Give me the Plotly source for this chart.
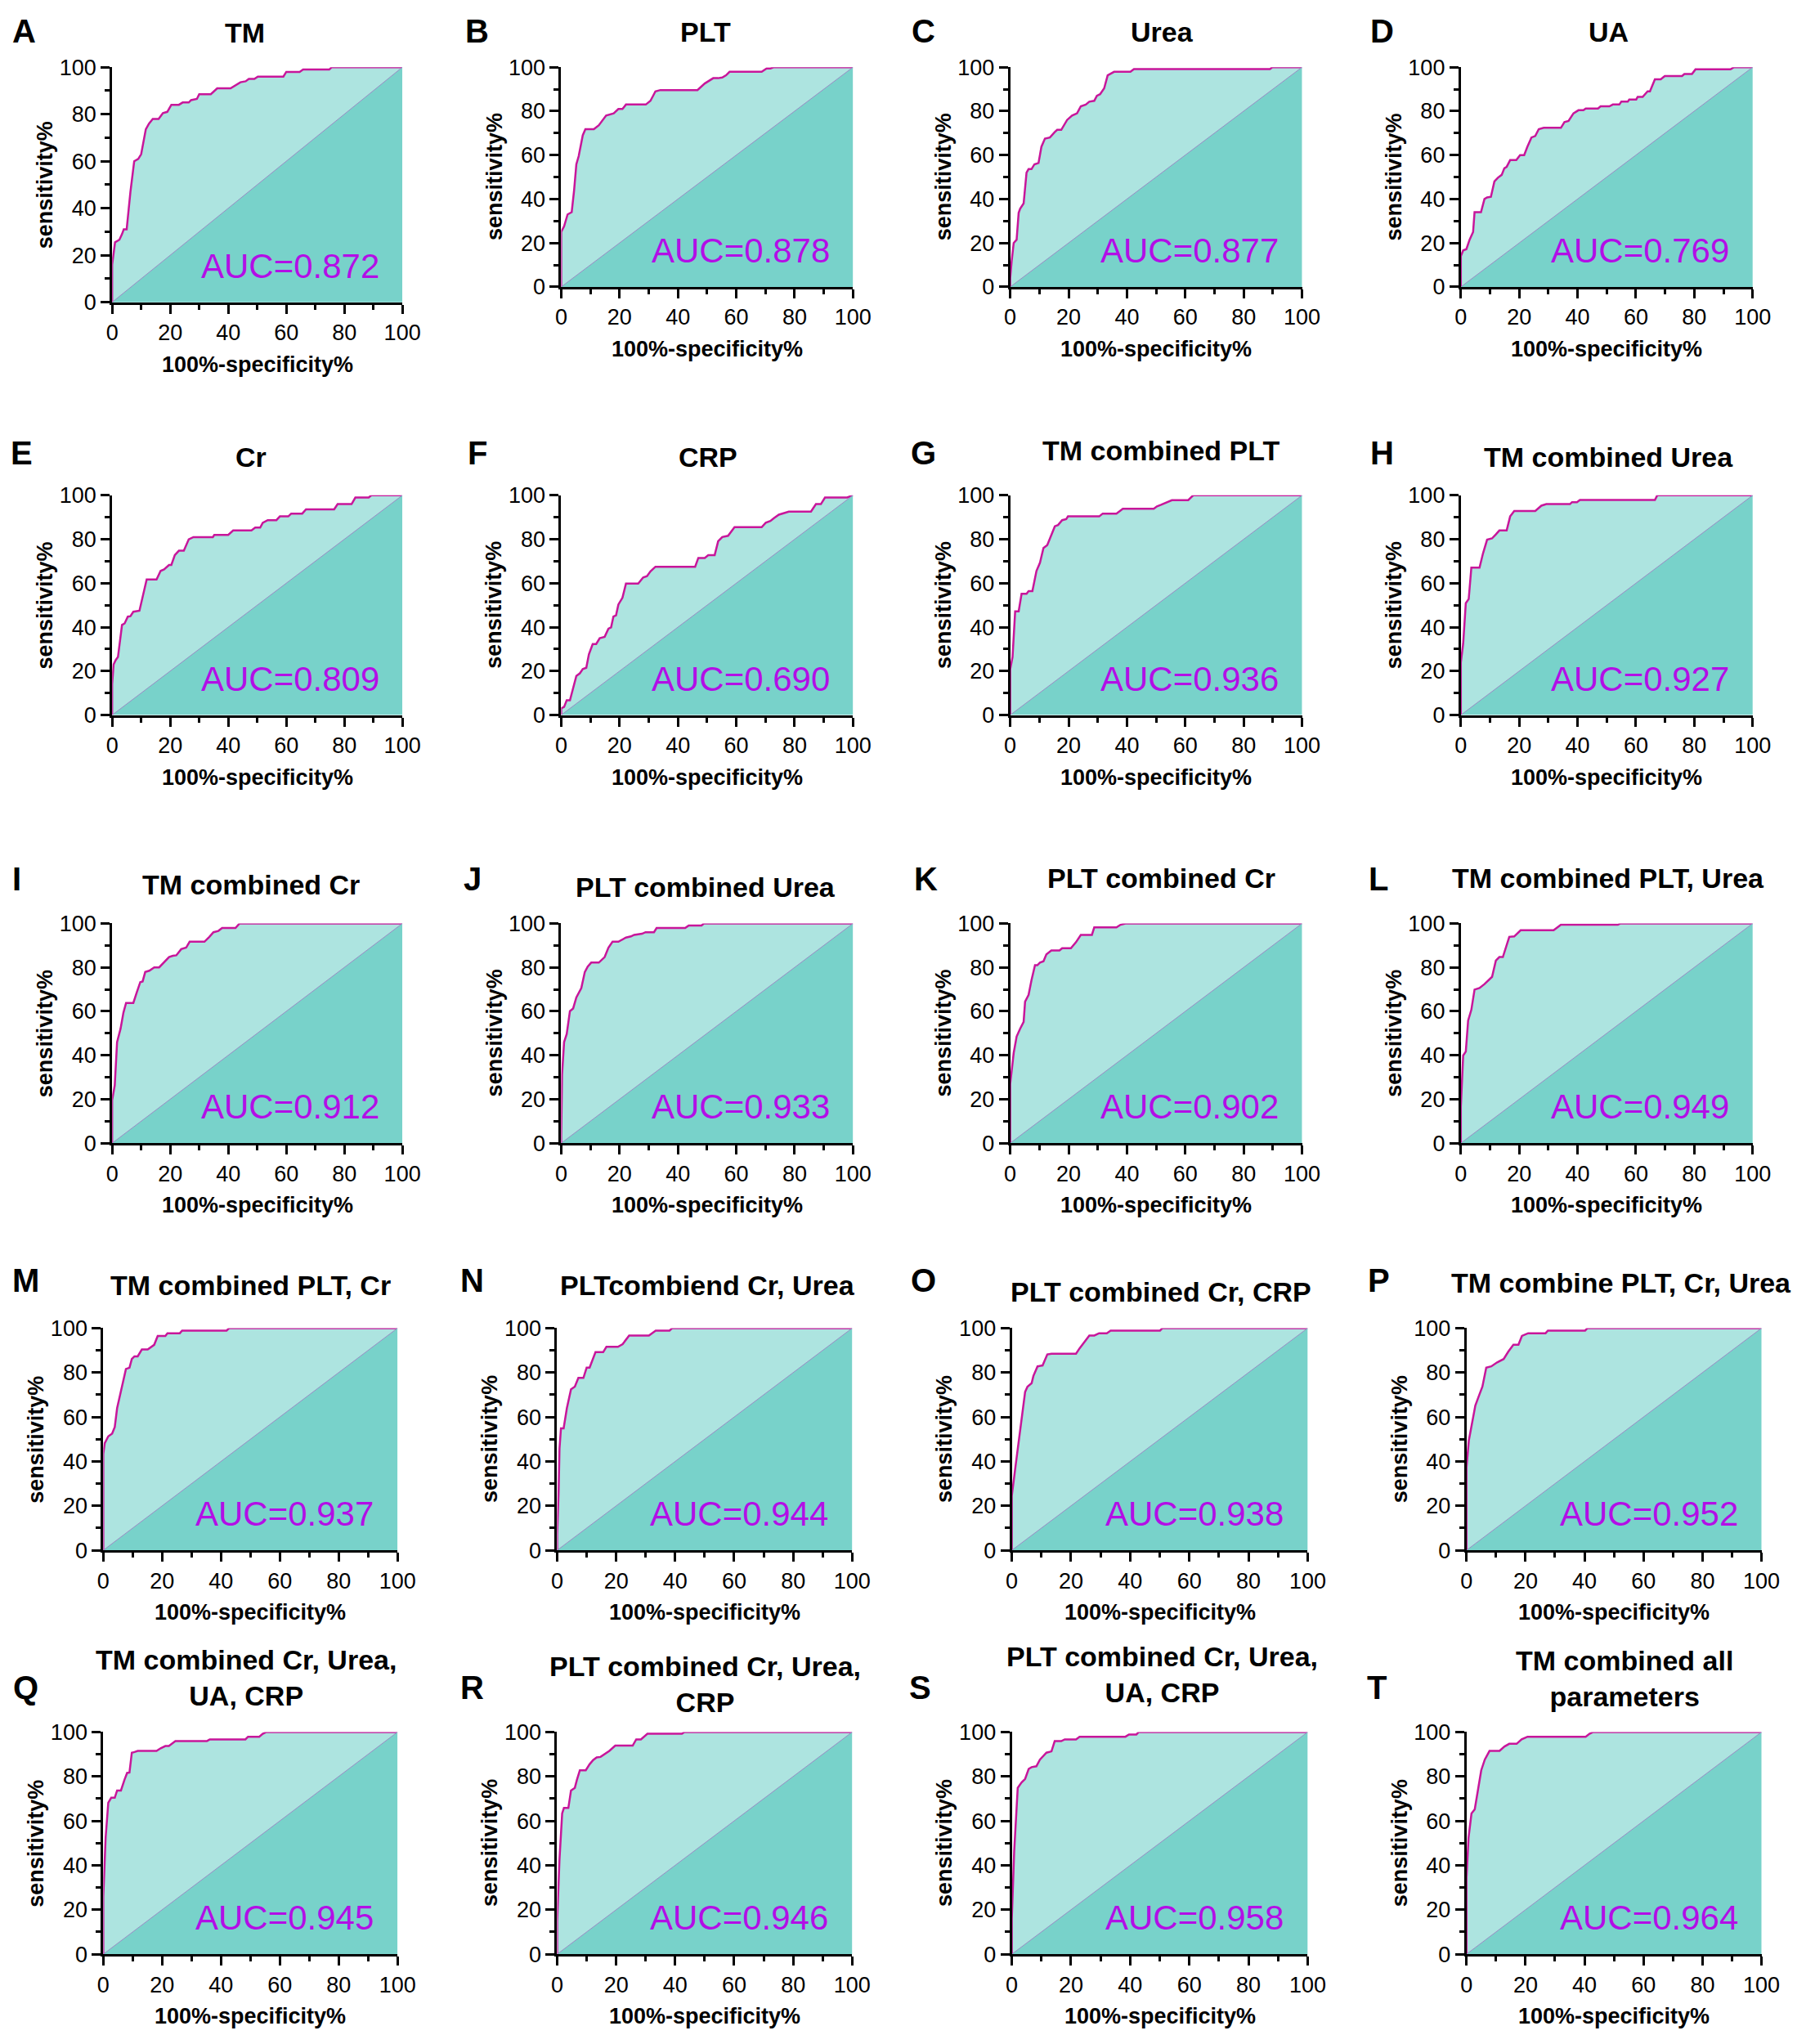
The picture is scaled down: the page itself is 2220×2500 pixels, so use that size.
import plotly.graph_objects as go

# ROC curves: x = 100%-specificity%, y = sensitivity%
TM_X = [0, 0, 1, 2.5, 3.4, 4, 5, 6.3, 7.6, 9, 10, 11.6, 12.7, 14, 16, 17.5, 19, 20.4, 23, 24.3,
        26.4, 27.2, 29.2, 30, 34, 36.2, 40.8, 44.2, 46, 47.1, 49, 50.2, 59, 60, 64.6, 65.8, 74.8, 75.7, 100]
TM_Y = [0, 16, 25.5, 26.6, 29, 31, 31, 47, 60, 61, 63, 73.6, 76, 78, 78, 80.5, 81, 84, 84, 85,
        85, 86, 86.5, 88.5, 88.5, 91, 91, 93.6, 94, 95, 95, 96, 96, 98, 98, 99, 99, 100, 100]

PLT_X = [0, 0, 1, 2.2, 3.6, 4.4, 5.2, 6, 7.4, 8.3, 10.3, 11.2, 12.9, 15.4, 18, 19.6, 21, 22.2, 29, 30.6,
         32.3, 34, 46.7, 49.2, 52.1, 53.8, 55.2, 56.5, 57.7, 68.7, 70.4, 71.7, 72.9, 100]
PLT_Y = [0, 25, 27.6, 33, 34, 43.6, 55.8, 59.5, 69, 71.8, 71.8, 71.8, 73.6, 78, 79, 81, 81, 83, 83, 84.7,
         89, 89.6, 89.6, 92.6, 95, 95, 95.3, 96.3, 97.9, 97.9, 99.4, 99.4, 100, 100]

UREA_X = [0, 0, 0.5, 1.2, 2.2, 2.9, 3.4, 4.6, 5.6, 6.3, 7.3, 8.3, 9.7, 10.7, 11.9, 13.6, 15.3, 16.1, 17.5, 19.5,
          21.2, 22.9, 24.2, 25.9, 27.1, 28.8, 29.7, 30.8, 32.2, 33.4, 35.6, 41.2, 42.4, 89, 89.8, 100]
UREA_Y = [0, 4, 11.7, 20, 21.5, 33.7, 35.6, 38, 52, 53.6, 53.6, 55.8, 56.4, 63.8, 67.5, 68, 70.5, 71.5, 71.5, 76,
          78, 79, 82.2, 83, 84.3, 84.7, 87, 87.7, 90.4, 96.3, 97.9, 97.9, 99.1, 99.1, 100, 100]

UA_X = [0, 0, 0.8, 1.9, 3, 4.2, 4.7, 6.9, 8.1, 9, 10.3, 11.5, 12.7, 14, 14.9, 15.7, 16.9, 19, 20.3, 21.7,
        22.8, 24.2, 25.5, 26.7, 28.4, 34.3, 35.5, 36.9, 38.6, 40.3, 42, 42.8, 47, 47.9, 50.9, 52.1, 54.3, 55,
        57.2, 57.7, 60.1, 60.6, 62.3, 64, 64.8, 66.5, 68.5, 69.9, 75.8, 76.6, 79.2, 80.4, 92.4, 93.6, 100]
UA_Y = [0, 14, 16.6, 17.2, 21.5, 25, 34, 34, 40, 40.7, 41, 48, 49.7, 51, 54, 54.6, 57.7, 57.7, 60, 60,
        63.8, 68, 68.7, 71.8, 72.4, 72.4, 75, 75.5, 79, 80.4, 80.4, 81.2, 81.2, 82.2, 82.2, 83, 83, 84.3,
        84.3, 85.3, 85.3, 86.5, 86.5, 89, 89, 94.5, 94.5, 96, 96, 96.9, 96.9, 99, 99, 100, 100]

CR_X = [0, 0, 0.5, 1.2, 2, 3.4, 4.3, 5.4, 6.3, 7.3, 9.4, 11.9, 15.3, 16.7, 17.9, 19.6, 20.4, 21.6, 23, 24.7,
        26.4, 28, 34.7, 35.2, 40, 41.7, 48, 49.3, 51, 51.9, 53.6, 56.6, 57.8, 60.7, 61.7, 65.5, 66.8, 76.5,
        77.7, 82.5, 83.8, 88.4, 89.3, 100]
CR_Y = [0, 14, 23, 25, 26.4, 41, 41.7, 44.8, 45, 47, 47.5, 61.7, 61.7, 65.6, 66.3, 68.3, 68.3, 72.8, 74.8, 74.8,
        80, 81, 81, 82, 82, 84, 84, 85.3, 85.3, 87.5, 88.7, 88.7, 90.4, 90.4, 91.7, 91.7, 93.6, 93.6,
        96, 96, 99, 99, 100, 100]

CRP_X = [0, 0, 1, 1.9, 3, 4.4, 5.2, 6.4, 7.4, 8.6, 9.5, 10.8, 12, 13.2, 14.9, 16.2, 17.1, 17.9, 18.8, 19.6,
         21, 22.2, 26.4, 28.1, 29.4, 30.6, 32.3, 45.9, 47, 49.2, 50.4, 52.6, 53.8, 55.2, 57.2, 59.4, 68.7,
         70.1, 71.7, 72.9, 74.6, 78, 85.6, 87.3, 89, 90.4, 98, 100]
CRP_Y = [0, 3, 3.7, 6.7, 6.7, 13.5, 17.8, 19, 20.9, 21.5, 27.6, 32.3, 32.3, 35, 35.6, 39.3, 39.9, 44.8, 45.4, 50.3,
         53.4, 59.8, 59.8, 62.6, 63.2, 65.4, 67.5, 67.5, 71.5, 71.5, 72.8, 72.8, 79.1, 81, 81.6, 85.5, 85.5,
         87.5, 88.3, 89.6, 91.2, 92.6, 92.6, 96, 96, 99, 99, 100]

TM_PLT_X = [0, 0, 0.8, 1.7, 2.9, 3.9, 5.6, 6.3, 7.6, 9, 10.2, 11.4, 12.7, 14.1, 15.3, 16.4, 17.8, 19.2, 19.8,
            30.5, 31.7, 36.4, 38.6, 49.2, 50.3, 51.7, 53.4, 55.4, 61, 62.7, 100]
TM_PLT_Y = [0, 20.9, 26.4, 47.2, 47.2, 55.2, 55.2, 56.4, 56.4, 65.6, 69.3, 76, 77.3, 82.2, 85.9, 86.5, 88.7, 89.2,
            90.4, 90.4, 91.7, 91.7, 93.9, 93.9, 95, 95.7, 96.6, 97.8, 97.8, 100, 100]

TM_UREA_X = [0, 0, 0.8, 1.7, 2.7, 3.6, 6.4, 7.6, 9, 10.7, 12, 13.2, 15.7, 16.9, 18.3, 25.5, 27.6, 29.3, 37.4,
             38.1, 39.8, 40.8, 66.5, 67.3, 100]
TM_UREA_Y = [0, 23.9, 32.5, 50.9, 52.8, 67.1, 67.1, 73.6, 79.8, 80.4, 82.2, 84, 84, 90.4, 92.9, 92.9, 95.3, 96, 96,
             96.9, 96.9, 97.9, 97.9, 100, 100]

TM_CR_X = [0, 0, 0.9, 1.7, 2.9, 3.9, 4.8, 7.3, 8.5, 9.7, 10.5, 11.4, 12.8, 14.5, 16.2, 17.9, 19.6, 20.9, 22.1,
           23.8, 25.5, 26.7, 31.8, 33.5, 34.9, 36.6, 37.9, 42.5, 43.9, 100]
TM_CR_Y = [0, 19.6, 26.4, 46, 52.1, 59.5, 63.8, 63.8, 68.7, 73.3, 73.6, 77.9, 78.5, 80, 80, 82.2, 84.7, 85.3, 85.5,
           88.3, 89, 91.7, 91.7, 93.9, 96, 96.6, 97.9, 97.9, 100, 100]

PLT_UREA_X = [0, 0, 0.3, 1, 1.9, 3, 4.1, 5.2, 6.9, 8.1, 9.1, 10.3, 12.9, 14.9, 16.2, 17.6, 19.6, 21, 22.2, 23.9,
              25, 27.7, 28.9, 31.8, 32.7, 42.5, 43.7, 48.1, 48.9, 100]
PLT_UREA_Y = [0, 3, 31.3, 46, 49.7, 60.1, 61.3, 66.3, 70.6, 77.9, 80.4, 82.2, 82.2, 84.7, 89, 91.7, 91.7, 92.6,
              93.6, 94.1, 94.8, 95.3, 96, 96, 97.9, 97.9, 99.1, 99.1, 100, 100]

PLT_CR_X = [0, 0, 1.2, 2.2, 3.4, 4.6, 5.1, 6.3, 7.3, 8.5, 9.3, 10.2, 11.4, 12.4, 14.1, 16.9, 17.8, 20.8, 22.5,
            24.2, 28, 28.8, 36.4, 37.8, 39.5, 100]
PLT_CR_Y = [0, 27, 41.1, 48.5, 52.1, 55.2, 64.4, 67.5, 74.2, 81, 81, 82.2, 82.8, 85.9, 87.7, 87.7, 88.7, 88.7, 91.4,
            94.8, 94.8, 98.2, 98.2, 99.4, 100, 100]

TM_PLT_UREA_X = [0, 0, 0.8, 1.7, 2.5, 3.6, 4.7, 6.4, 8.1, 10.7, 12, 13.2, 14.4, 16, 16.6, 18.3, 20.5, 31.8,
                 34.3, 53.8, 54.7, 100]
TM_PLT_UREA_Y = [0, 16.6, 39.9, 41.7, 55.8, 60.7, 69.9, 70.6, 72.4, 75.7, 83.1, 84.7, 84.7, 90.8, 93.9, 94.1,
                 96.9, 96.9, 99.4, 99.4, 100, 100]

TM_PLT_CR_X = [0, 0, 0.5, 1.7, 3, 3.9, 4.7, 6, 7.7, 8.9, 9.7, 10.6, 11.7, 13.1, 15.1, 17.3, 18.5, 21.1, 21.8,
               26, 26.8, 41.9, 42.8, 100]
TM_PLT_CR_Y = [0, 43.4, 48.2, 51.3, 52.5, 55.5, 64, 71.9, 81.6, 82.2, 86.1, 87.3, 87.3, 90.4, 90.4, 92.5, 96.5,
               96.5, 97.7, 97.7, 98.9, 98.9, 100, 100]

PLT_CR_UREA_X = [0, 0, 0.5, 0.8, 1.3, 2.2, 3.3, 4.7, 6, 7.2, 8.9, 10, 11, 13, 15.6, 16.7, 20.6, 22.2, 24.4,
                 31.1, 33.4, 38.1, 39, 100]
PLT_CR_UREA_Y = [0, 7, 26.4, 45.8, 54.9, 54.9, 64, 72.5, 73.7, 77.6, 77.6, 82.2, 82.2, 89.2, 89.2, 91.6, 91.6,
                 92.8, 96.7, 96.7, 98.9, 98.9, 100, 100]

PLT_CR_CRP_X = [0, 0, 1.2, 2.8, 4.5, 5.3, 6.7, 7.3, 8.7, 10.4, 12, 13.4, 21.7, 22.9, 24.5, 26.2, 27.9, 29.5,
                32.1, 33.4, 50.1, 50.9, 100]
PLT_CR_CRP_Y = [0, 24.6, 37.3, 53.1, 71.3, 73.7, 75.2, 78.5, 82.8, 83.2, 88.2, 88.5, 88.5, 90.9, 93.7, 96.7,
                96.7, 97.7, 97.7, 98.9, 98.9, 100, 100]

TM_PLT_CR_UREA_X = [0, 0, 0.8, 2, 3, 4.2, 5.4, 6.7, 8.4, 10.4, 12.6, 14.2, 15.9, 17.6, 18.8, 20.9, 26.8, 27.6,
                    40.2, 41, 100]
TM_PLT_CR_UREA_Y = [0, 37.3, 49.5, 57.9, 65.2, 69.5, 73.7, 82.2, 82.8, 84.6, 86.1, 89.5, 92.5, 92.5, 96.5, 97.7,
                    97.7, 98.9, 98.9, 100, 100]

TM_CR_UREA_UA_CRP_X = [0, 0, 0.8, 1.7, 2.7, 3.9, 4.7, 6, 7.2, 8.1, 8.9, 9.7, 10.6, 11.7, 18.1, 19.5, 21.1, 22.3,
                       24.5, 35.2, 36.2, 48.3, 49.2, 53, 54.2, 55.4, 100]
TM_CR_UREA_UA_CRP_Y = [0, 25.8, 52.5, 68.2, 70.4, 70.4, 73.7, 73.7, 78.5, 81.6, 81.8, 90.7, 91, 91.5, 91.5, 92.7,
                       93.7, 93.7, 95.9, 95.9, 96.7, 96.7, 97.9, 97.9, 99.2, 100, 100]

PLT_CR_UREA_CRP_X = [0, 0, 0.8, 1.7, 2.3, 3.8, 4.7, 6, 6.7, 7.7, 9.7, 11, 12.2, 13.4, 14.7, 16.1, 17.7, 19.7,
                     25.6, 26.8, 28.4, 30.6, 42.3, 43.1, 100]
PLT_CR_UREA_CRP_Y = [0, 14.9, 42.8, 63.4, 65.8, 65.8, 73.7, 74.9, 78.5, 82.8, 82.8, 85.5, 87.4, 88.6, 88.8, 90.1,
                     91.5, 93.9, 93.9, 96.7, 96.7, 99.2, 99.2, 100, 100]

PLT_CR_UREA_UA_CRP_X = [0, 0, 0.8, 1.7, 2, 3.3, 4.5, 5.7, 6.7, 8.3, 9.5, 11.7, 13.4, 14.5, 16.7, 17.9, 21.7, 22.9,
                        38.4, 39.6, 42.1, 42.9, 100]
PLT_CR_UREA_UA_CRP_Y = [0, 16.1, 46.4, 67, 74.9, 77.3, 78.9, 83.4, 84.2, 84.6, 87.6, 90.7, 91.3, 95.9, 95.9, 96.7,
                        96.7, 97.9, 97.9, 98.9, 98.9, 100, 100]

TM_ALL_X = [0, 0, 0.7, 1.7, 2.8, 3.7, 5, 6.2, 7.8, 11.2, 12.9, 14.5, 17, 18.7, 20.7, 40.4, 41.7, 42.9, 100]
TM_ALL_Y = [0, 34.3, 52.5, 63.4, 65.2, 73.1, 82.8, 87.6, 91.5, 91.5, 93.5, 94.7, 94.7, 96.7, 97.9, 97.9, 99.2, 100, 100]

CHANCE = [0, 100]

PANEL_LETTERS = list("ABCDEFGHIJKLMNOPQRST")
PANEL_TITLES = [
    "TM", "PLT", "Urea", "UA",
    "Cr", "CRP", "TM combined PLT", "TM combined Urea",
    "TM combined Cr", "PLT combined Urea", "PLT combined Cr", "TM combined PLT, Urea",
    "TM combined PLT, Cr", "PLTcombiend Cr, Urea", "PLT combined Cr, CRP", "TM combine PLT, Cr, Urea",
    "TM combined Cr, Urea,<br>UA, CRP", "PLT combined Cr, Urea,<br>CRP",
    "PLT combined Cr, Urea,<br>UA, CRP", "TM combined all<br>parameters",
]
AUC_VALUES = ["0.872", "0.878", "0.877", "0.769",
              "0.809", "0.690", "0.936", "0.927",
              "0.912", "0.933", "0.902", "0.949",
              "0.937", "0.944", "0.938", "0.952",
              "0.945", "0.946", "0.958", "0.964"]

CURVES = [
    (TM_X, TM_Y), (PLT_X, PLT_Y), (UREA_X, UREA_Y), (UA_X, UA_Y),
    (CR_X, CR_Y), (CRP_X, CRP_Y), (TM_PLT_X, TM_PLT_Y), (TM_UREA_X, TM_UREA_Y),
    (TM_CR_X, TM_CR_Y), (PLT_UREA_X, PLT_UREA_Y), (PLT_CR_X, PLT_CR_Y), (TM_PLT_UREA_X, TM_PLT_UREA_Y),
    (TM_PLT_CR_X, TM_PLT_CR_Y), (PLT_CR_UREA_X, PLT_CR_UREA_Y), (PLT_CR_CRP_X, PLT_CR_CRP_Y),
    (TM_PLT_CR_UREA_X, TM_PLT_CR_UREA_Y),
    (TM_CR_UREA_UA_CRP_X, TM_CR_UREA_UA_CRP_Y), (PLT_CR_UREA_CRP_X, PLT_CR_UREA_CRP_Y),
    (PLT_CR_UREA_UA_CRP_X, PLT_CR_UREA_UA_CRP_Y), (TM_ALL_X, TM_ALL_Y),
]

# page geometry in pixels
W, H = 2220, 2500
COLS_TOP = [(131, 491), (688, 1050), (1245, 1607), (1804, 2166)]
COLS_BOT = [(120, 485), (683, 1049), (1247, 1614), (1811, 2177)]
ROWS = [(68, 340), (598, 870), (1128, 1400), (1629, 1904), (2129, 2404)]
LETTER_POS = [(22, 23), (584, 23), (1137, 23), (1706, 23),
              (19, 546), (584, 546), (1137, 546), (1706, 546),
              (13, 1073), (578, 1073), (1140, 1073), (1702, 1073),
              (24, 1570), (578, 1570), (1137, 1570), (1702, 1570),
              (24, 2074), (578, 2074), (1133, 2074), (1700, 2074)]
TITLE_POS = [(296, 25), (867, 24), (1434, 24), (1987, 24),
             (303, 551), (870, 551), (1432, 543), (1987, 551),
             (303, 1080), (867, 1083), (1432, 1072), (1987, 1072),
             (303, 1576), (870, 1576), (1432, 1584), (2003, 1573),
             (297, 2062), (867, 2070), (1434, 2058), (2007, 2063)]

FONT = "Liberation Sans, Arial, sans-serif"
CURVE_COLOR = "#c8169a"
LIGHT = "#ade4e0"
DARK = "#78d2ca"
DIAG_COLOR = "#9a8cc4"
AUC_COLOR = "#b30ee6"


def px(x):
    return x / W


def py(y):
    return 1 - y / H


fig = go.Figure()
annotations = []
layout_axes = {}

for i, (xs, ys) in enumerate(CURVES):
    n = i + 1
    row, col = divmod(i, 4)
    left, right = (COLS_TOP if row < 3 else COLS_BOT)[col]
    top, bottom = ROWS[row]
    if i == 0:
        bottom = 359
    xref = "x" if n == 1 else f"x{n}"
    yref = "y" if n == 1 else f"y{n}"

    fig.add_trace(go.Scatter(x=xs, y=ys, mode="lines", line=dict(color=CURVE_COLOR, width=2.5),
                             fill="tozeroy", fillcolor=LIGHT, xaxis=xref, yaxis=yref,
                             showlegend=False, hoverinfo="skip"))
    fig.add_trace(go.Scatter(x=CHANCE, y=CHANCE, mode="lines", line=dict(color=DIAG_COLOR, width=1),
                             fill="tozeroy", fillcolor=DARK, xaxis=xref, yaxis=yref,
                             showlegend=False, hoverinfo="skip"))

    common = dict(range=[0, 100], showgrid=False, zeroline=False, showline=True,
                  linecolor="black", linewidth=3, ticks="outside", ticklen=11, tickwidth=3,
                  tickcolor="black", tickmode="linear", tick0=0, dtick=20,
                  tickfont=dict(family=FONT, size=27, color="black"),
                  minor=dict(tickmode="linear", tick0=0, dtick=10, ticks="outside",
                             ticklen=6, tickwidth=2.5, tickcolor="black"),
                  fixedrange=True)
    layout_axes["xaxis" if n == 1 else f"xaxis{n}"] = dict(
        common, domain=[px(left), px(right)], anchor=yref)
    layout_axes["yaxis" if n == 1 else f"yaxis{n}"] = dict(
        common, domain=[py(bottom), py(top)], anchor=xref)

    lx, ly = LETTER_POS[i]
    annotations.append(dict(text=f"<b>{PANEL_LETTERS[i]}</b>", x=px(lx), y=py(ly), xref="paper",
                            yref="paper", showarrow=False, xanchor="center", yanchor="middle",
                            font=dict(family=FONT, size=40, color="black")))
    tx, ty = TITLE_POS[i]
    annotations.append(dict(text=f"<b>{PANEL_TITLES[i]}</b>", x=px(tx), y=py(ty), xref="paper",
                            yref="paper", showarrow=False, xanchor="center", yanchor="middle",
                            font=dict(family=FONT, size=34, color="black")))
    annotations.append(dict(text="<b>100%-specificity%</b>", x=px((left + right) / 2), y=py(bottom + 77),
                            xref="paper", yref="paper", showarrow=False, xanchor="center",
                            yanchor="middle", font=dict(family=FONT, size=27, color="black")))
    annotations.append(dict(text="<b>sensitivity%</b>", x=px(left - 83), y=py((top + bottom) / 2),
                            xref="paper", yref="paper", showarrow=False, textangle=-90,
                            xanchor="center", yanchor="middle",
                            font=dict(family=FONT, size=27, color="black")))
    annotations.append(dict(text=f"AUC={AUC_VALUES[i]}", x=px(left + 0.925 * (right - left)),
                            y=py(bottom - 19), xref="paper", yref="paper", showarrow=False,
                            xanchor="right", yanchor="bottom",
                            font=dict(family=FONT, size=42, color=AUC_COLOR)))

fig.update_layout(width=W, height=H, autosize=False, margin=dict(l=0, r=0, t=0, b=0),
                  paper_bgcolor="white", plot_bgcolor="white", showlegend=False,
                  annotations=annotations, **layout_axes)

# drop the default page margin so the figure sits at the top-left corner
fig.write_html("out.html", post_script="document.body.style.margin = '0';",
               config={"displayModeBar": False})
